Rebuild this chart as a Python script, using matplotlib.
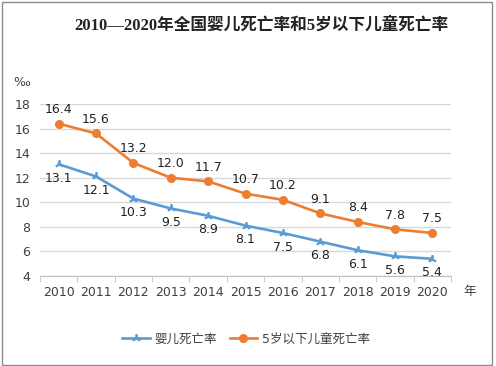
import numpy as np
import matplotlib
matplotlib.use('Agg')
import matplotlib.pyplot as plt
from matplotlib.patches import Rectangle

plt.rcParams['font.family'] = ['DejaVu Sans', 'Noto Sans CJK SC']

years = ['2010', '2011', '2012', '2013', '2014', '2015', '2016', '2017', '2018', '2019', '2020']
infant = [13.1, 12.1, 10.3, 9.5, 8.9, 8.1, 7.5, 6.8, 6.1, 5.6, 5.4]
under5 = [16.4, 15.6, 13.2, 12.0, 11.7, 10.7, 10.2, 9.1, 8.4, 7.8, 7.5]
yticks = [4, 6, 8, 10, 12, 14, 16, 18]

blue = '#5b9bd5'
orange = '#ed7d31'
txt = '#404040'

fig = plt.figure(figsize=(4.96, 3.66), dpi=100)
ax = fig.add_axes([40 / 496, 1 - 276 / 366, 411 / 496, 172 / 366])

x = np.arange(len(years))
l1, = ax.plot(x, infant, color=blue, lw=1.9, marker=(3, 2, 0), ms=6, mew=1.3, label='婴儿死亡率')
l2, = ax.plot(x, under5, color=orange, lw=1.9, marker='o', ms=5.5, label='5岁以下儿童死亡率')

# data labels: orange above, blue below
for xi, v in zip(x, under5):
    ax.annotate(f'{v:.1f}', (xi, v), xytext=(0, 5.5), textcoords='offset points',
                ha='center', va='bottom', fontsize=9, color='#222222')
for xi, v in zip(x, infant):
    ax.annotate(f'{v:.1f}', (xi, v), xytext=(0, -5.5), textcoords='offset points',
                ha='center', va='top', fontsize=9, color='#222222')

ax.set_xlim(-0.5, len(years) - 0.5)
ax.set_ylim(4, 18)
ax.set_yticks(yticks)
ax.set_xticks(x)
ax.set_xticklabels(years)
ax.set_xticks(np.arange(-0.5, len(years)), minor=True)
ax.tick_params(axis='x', which='major', length=0, pad=7, labelsize=9, labelcolor=txt)
ax.tick_params(axis='x', which='minor', length=4, color='#bfbfbf')
ax.tick_params(axis='y', length=0, pad=7, labelsize=9, labelcolor=txt)
ax.grid(axis='y', color='#d9d9d9', lw=1)
ax.set_axisbelow(True)
for s in ['top', 'right', 'left']:
    ax.spines[s].set_visible(False)
ax.spines['bottom'].set_color('#bfbfbf')

fig.text(22 / 496, 1 - 82 / 366, '‰', ha='center', va='center', fontsize=9, color=txt)
fig.text(470 / 496, 1 - 291 / 366, '年', ha='center', va='center', fontsize=9, color=txt)
fig.text(261 / 496, 1 - 25 / 366, '2010—2020年全国婴儿死亡率和5岁以下儿童死亡率',
         ha='center', va='center', fontsize=12, fontweight='bold', color='#222222',
         family=['Liberation Serif', 'Noto Sans CJK SC'])

fig.legend(handles=[l1, l2], loc='center', bbox_to_anchor=(246 / 496, 1 - 339 / 366),
           ncol=2, frameon=False, fontsize=9, handlelength=2.2, columnspacing=1.0,
           handletextpad=0.4, labelcolor=txt)

fig.patches.append(Rectangle((1.5 / 496, 1.5 / 366), 490 / 496, 363 / 366, transform=fig.transFigure,
                             fill=False, edgecolor='#8c8c8c', lw=1.0))

fig.savefig('out.png', dpi=100)
